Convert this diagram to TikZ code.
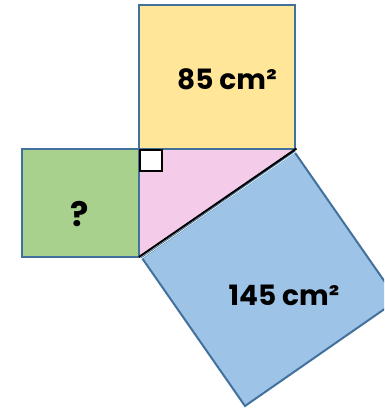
\documentclass[tikz,border=0pt]{standalone}
\usepackage{fontspec}
\newfontfamily\labfont{Poppins}
\definecolor{edge}{HTML}{41719C}
\definecolor{yel}{HTML}{FFE699}
\definecolor{grn}{HTML}{A9D18E}
\definecolor{blu}{HTML}{9DC3E6}
\definecolor{pnk}{HTML}{F4CCE9}
\tikzset{
  sq/.style={draw=edge, line width=2pt, line join=miter},
  lab/.style={font=\labfont\bfseries\fontsize{28}{28}\selectfont, inner sep=0pt, text=black},
}
\begin{document}
\begin{tikzpicture}[x=1pt,y=-1pt]
\useasboundingbox (0,0) rectangle (384,408);
\clip (0,0) rectangle (384,408);
% triangle
\coordinate (A) at (139,149);
\coordinate (Bc) at (295,149);
\coordinate (C) at (139,257);
\fill[pnk] (A) -- (Bc) -- (C) -- cycle;
% blue square
\coordinate (T) at (294.5,152);
\coordinate (L) at (142,258);
\coordinate (Bt) at (245,406);
\coordinate (R) at (397.5,300);
\filldraw[sq, fill=blu] (T) -- (R) -- (Bt) -- (L) -- cycle;
% green square
\filldraw[sq, fill=grn] (22,149) rectangle (139,257);
% yellow square
\filldraw[sq, fill=yel] (139,5) rectangle (295,149);
% right angle mark
\filldraw[draw=black, fill=white, line width=1.5pt] (140,150) rectangle (162,171);
% hypotenuse
\draw[black, line width=2pt] (C) -- (296.5,148.5);
\draw[white, line width=0.7pt] (141,259) -- (297,151);
% labels
\node[lab] (l85) at (227,79) {85 cm²};
\node[lab] (l145) at (284,295) {145 cm²};
\node[lab, font=\labfont\bfseries\fontsize{34}{34}\selectfont] (lq) at (80,214) {?};
\end{tikzpicture}
\end{document}
